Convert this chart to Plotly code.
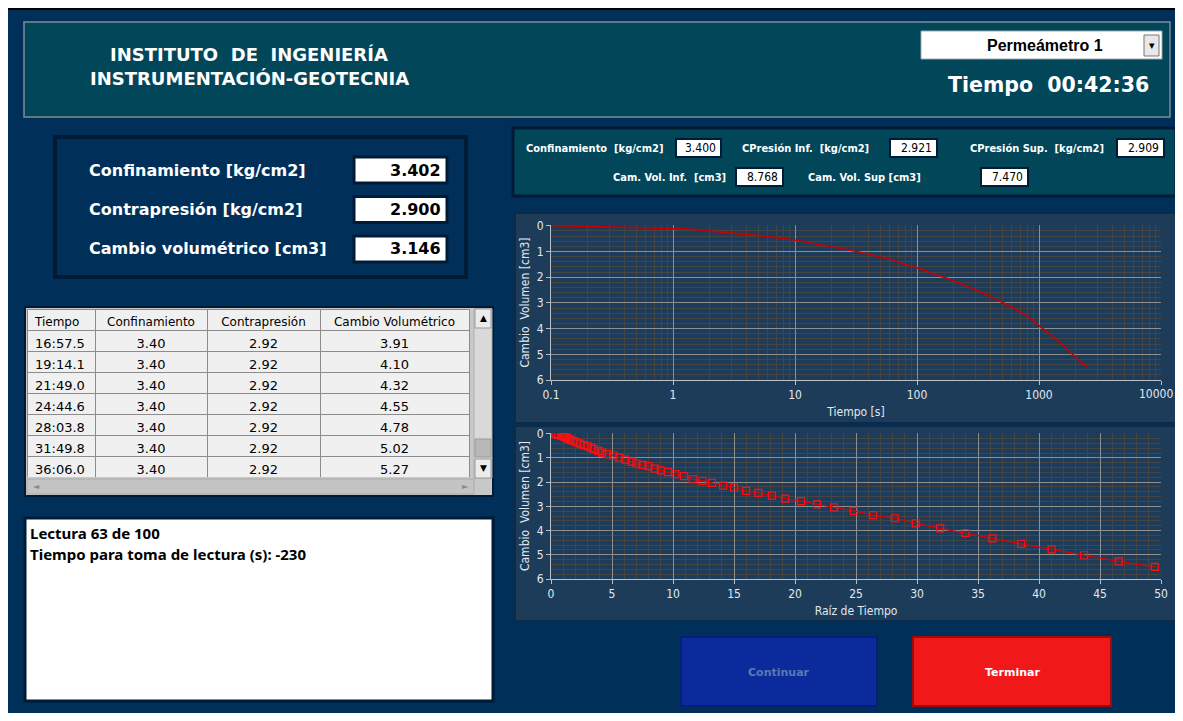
import numpy as np
import plotly.graph_objects as go

# lecturas (tiempo en s, cambio volumétrico en cm3)
tiempo_s = [0.1, 0.15, 0.34, 0.76, 1.1, 1.3, 1.6, 2.0, 2.5, 3.35,
            4.4, 5.8, 7.3, 9.0, 10.9, 12.3, 15.2, 17.6, 21.2, 26,
            31.4, 37.2, 43.6, 49, 56.3, 64, 72.3, 81, 92, 104,
            119, 135, 154, 174, 199, 225, 256, 289, 328, 369,
            420, 476, 538, 616, 697, 794, 894, 1017.5, 1154.1, 1309.0,
            1484.6, 1683.8, 1909.8, 2166.0, 2450]
cambio_vol = [0, 0.01, 0.05, 0.09, 0.11, 0.13, 0.16, 0.20, 0.25, 0.30,
              0.36, 0.41, 0.47, 0.52, 0.58, 0.63, 0.71, 0.78, 0.84, 0.90,
              0.99, 1.07, 1.15, 1.23, 1.29, 1.34, 1.44, 1.51, 1.59, 1.67,
              1.75, 1.88, 1.95, 2.03, 2.14, 2.23, 2.36, 2.44, 2.56, 2.68,
              2.78, 2.92, 3.04, 3.19, 3.36, 3.49, 3.70, 3.91, 4.10, 4.32,
              4.55, 4.78, 5.02, 5.27, 5.50]

# tabla de lecturas
tabla_tiempo = ["16:57.5", "19:14.1", "21:49.0", "24:44.6", "28:03.8", "31:49.8", "36:06.0"]
tabla_conf = ["3.40"] * 7
tabla_contra = ["2.92"] * 7
tabla_cambio = ["3.91", "4.10", "4.32", "4.55", "4.78", "5.02", "5.27"]
tabla_cols = ["Tiempo", "Confinamiento", "Contrapresión", "Cambio Volumétrico"]

# indicadores
panel_labels = ["Confinamiento [kg/cm2]", "Contrapresión [kg/cm2]", "Cambio volumétrico [cm3]"]
panel_values = ["3.402", "2.900", "3.146"]
sensores_labels = ["Confinamiento  [kg/cm2]", "CPresión Inf.  [kg/cm2]", "CPresión Sup.  [kg/cm2]",
                   "Cam. Vol. Inf.  [cm3]", "Cam. Vol. Sup [cm3]"]
sensores_values = ["3.400", "2.921", "2.909", "8.768", "7.470"]

# la pagina tiene 8 px de margen: la figura ocupa el resto de la ventana
OFF = 8
W, H = 1183 - 2 * OFF, 721 - 2 * OFF
NAVY = "#00305a"
TEAL = "#02465a"
COND = "Liberation Sans Narrow, DejaVu Sans Condensed, sans-serif"


def px(x):
    return (x - OFF) / W


def py(y):
    return 1 - (y - OFF) / H


shapes = []
annots = []


def rect(x0, y0, x1, y1, fill, line=None, lw=0):
    shapes.append(dict(type="rect", xref="paper", yref="paper", layer="below",
                       x0=px(x0), x1=px(x1), y0=py(y1), y1=py(y0),
                       fillcolor=fill, line=dict(color=line or fill, width=lw)))


def text(x, y, s, size, color="white", family="DejaVu Sans", xanchor="left", bold=True):
    annots.append(dict(xref="paper", yref="paper", x=px(x), y=py(y), text=f"<b>{s}</b>" if bold else s,
                       showarrow=False, xanchor=xanchor, yanchor="middle",
                       font=dict(size=size, color=color, family=family)))


# linea superior
rect(0, 8, 1183, 10, "black")

# encabezado
rect(24, 22, 1170, 117, TEAL, "#7d8c96", 1.5)
text(249, 55, "INSTITUTO  DE  INGENIERÍA", 18, xanchor="center")
text(249, 78, "INSTRUMENTACIÓN-GEOTECNIA", 18, xanchor="center")
rect(921, 31, 1162, 59, "white", "#9aa", 1)
rect(1144, 35, 1159, 56, "#e8e8e8", "#777", 1)
text(1045, 46, "Permeámetro 1", 16, "black", "Liberation Sans, Arial", "center")
text(1152, 46, "▾", 11, "black", "DejaVu Sans", "center", bold=False)
text(1048, 85, "Tiempo  00:42:36", 20.5, xanchor="center")

# indicadores principales
rect(55, 137, 466, 277, NAVY, "#001b36", 4)
for i, (lab, val) in enumerate(zip(panel_labels, panel_values)):
    yc = 170 + i * 39.5
    text(87, yc, lab, 16)
    rect(354, yc - 13, 447, yc + 13, "white", "#001b36", 3)
    text(443, yc, val, 16, "black", xanchor="right")

# sensores
rect(513, 128, 1176, 196, TEAL, "#001b36", 3)
lab_pos = [(524, 148, 676, 721), (740, 148, 890, 937), (968, 148, 1117, 1164),
           (611, 177, 736, 783), (806, 177, 981, 1028)]
for (lx, ly, bx0, bx1), lab, val in zip(lab_pos, sensores_labels, sensores_values):
    text(lx, ly, lab, 11, "white", COND)
    rect(bx0, ly - 9, bx1, ly + 9, "white", "#001b36", 2)
    text(bx1 - 3, ly, val, 12, "black", COND, "right", bold=False)

# paneles de graficas
rect(515, 213, 1176, 423, "#1c3c5a", "#0f2a44", 2)
rect(515, 426, 1176, 621, "#1c3c5a", "#0f2a44", 2)

# tabla: marco y barras de desplazamiento
rect(25, 307, 493, 496, "#c8c8c8", "#001b36", 2)
rect(474, 309, 492, 478, "#d9d9d9", "#b0b0b0", 1)
rect(475, 309, 491, 328, "#ececec", "#999", 1)
rect(475, 459, 491, 478, "#ececec", "#999", 1)
rect(475, 439, 491, 457, "#b8b8b8", "#999", 1)
text(483, 318, "▲", 9, "black", xanchor="center", bold=False)
text(483, 468, "▼", 9, "black", xanchor="center", bold=False)
rect(27, 479, 474, 494, "#c4c4c4", "#aaa", 1)
text(36, 486, "◄", 8, "#888", xanchor="center", bold=False)
text(465, 486, "►", 8, "#888", xanchor="center", bold=False)

# caja de mensajes
rect(25, 518, 493, 701, "white", "#001b36", 3)
text(28, 533, "Lectura 63 de 100", 15, "black", "Noto Sans")
text(28, 554, "Tiempo para toma de lectura (s): -230", 15, "black", "Noto Sans")

# botones
rect(681, 637, 877, 706, "#0b2b9c", "#061e78", 2)
text(779, 672, "Continuar", 11, "#5a78b4", "DejaVu Sans", "center")
rect(913, 637, 1111, 706, "#f01818", "#9e0a0a", 2)
text(1012, 672, "Terminar", 11, "white", "DejaVu Sans", "center")

# ultima etiqueta del eje log: pegada al borde derecho para que no se corte
text(1175, 394, "10000", 12, "#e2e8ee", COND, "right", bold=False)

fig = go.Figure()

fig.add_trace(go.Scatter(x=tiempo_s, y=cambio_vol, mode="lines", xaxis="x", yaxis="y",
                         line=dict(color="#c80000", width=1.6)))
fig.add_trace(go.Scatter(x=np.sqrt(tiempo_s), y=cambio_vol, mode="lines+markers", xaxis="x2", yaxis="y2",
                         line=dict(color="#e00000", width=1.2),
                         marker=dict(symbol="square-open", size=7, color="#ff1010", line=dict(width=1.2))))

fig.add_trace(go.Table(
    domain=dict(x=[px(27), px(469)], y=[py(478), py(309)]),
    columnwidth=[68, 112, 113, 149],
    header=dict(values=tabla_cols, fill_color="#f0f0f0", line_color="#8c8c8c", height=21,
                align=["left", "center", "center", "center"],
                font=dict(family="DejaVu Sans", size=12, color="black")),
    cells=dict(values=[tabla_tiempo, tabla_conf, tabla_contra, tabla_cambio],
               fill_color="#f0f0f0", line_color="#8c8c8c", height=21,
               align=["left", "center", "center", "center"],
               font=dict(family="DejaVu Sans", size=13, color="black"))))

tick_font = dict(family=COND, size=12, color="#e2e8ee")
title_font = dict(family=COND, size=12, color="#e2e8ee")
common = dict(showline=True, linecolor="#b8c0c8", linewidth=1, ticks="outside", ticklen=4,
              tickcolor="#b8c0c8", tickfont=tick_font, gridcolor="#8e8e8e", gridwidth=1,
              zeroline=False, mirror=False, automargin=False)
ycommon = dict(common, range=[6, -0.03], tickvals=[0, 1, 2, 3, 4, 5, 6],
               minor=dict(tickvals=[v / 5 for v in range(31)], showgrid=True, gridcolor="#454545", ticks=""),
               title=dict(text="Cambio  Volumen [cm3]", font=title_font, standoff=4))

fig.update_layout(
    width=W, height=H, margin=dict(l=0, r=0, t=0, b=0, pad=0, autoexpand=False),
    paper_bgcolor=NAVY, plot_bgcolor="black", showlegend=False,
    shapes=shapes, annotations=annots,
    xaxis=dict(common, type="log", range=[-1, 4], dtick=1, tickformat="~g",
               labelalias={"10000": ""},
               domain=[px(551), px(1161)], anchor="y",
               minor=dict(dtick="D1", showgrid=True, gridcolor="#454545", ticks=""),
               title=dict(text="Tiempo [s]", font=title_font, standoff=6)),
    yaxis=dict(ycommon, domain=[py(380), py(225)], anchor="x"),
    xaxis2=dict(common, range=[0, 50], dtick=5, domain=[px(551), px(1161)], anchor="y2",
                minor=dict(dtick=1, showgrid=True, gridcolor="#454545", ticks=""),
                title=dict(text="Raíz de Tiempo", font=title_font, standoff=6)),
    yaxis2=dict(ycommon, domain=[py(579), py(433)], anchor="x2"),
)

fig.write_html("out.html")
